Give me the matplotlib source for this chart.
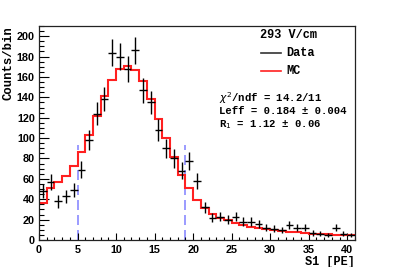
import numpy as np
import matplotlib
matplotlib.use("Agg")
import matplotlib.pyplot as plt
from matplotlib.ticker import MultipleLocator
from matplotlib.lines import Line2D

# --- data (1 PE bins, 0..41) ---
bin_edges = np.arange(0, 42, 1)
data_counts = [48, 57, 38, 43, 49, 69, 98, 124, 138, 184,
               180, 168, 186, 147, 135, 108, 90, 80, 68, 78,
               58, 32, 22, 23, 20, 23, 18, 18, 16, 12,
               11, 10, 15, 12, 12, 7, 6, 5, 12, 6, 5]
mc_counts = [36, 51, 57, 63, 73, 86, 103, 122, 141, 157,
             168, 171, 167, 156, 138, 119, 100, 81, 64, 51,
             39, 31, 26, 22, 19.6, 16.5, 15, 13, 12, 11,
             10, 9, 8, 7.5, 7, 6.2, 6, 5.5, 5.2, 5, 4.6]
cut_lo, cut_hi = 5, 19
cut_top = 93

field_label = "293 V/cm"
stat_lines = [r"$\chi^2$/ndf = 14.2/11",
              "Leff = 0.184 \u00b1 0.004",
              r"R$_{1}$ = 1.12 " + "\u00b1 0.06"]

mono = "Liberation Mono"
sans = "Liberation Sans"

fig = plt.figure(figsize=(3.95, 2.67), dpi=100)
ax = fig.add_axes([0.0987, 0.1011, 0.8, 0.8015])

centers = 0.5 * (bin_edges[:-1] + bin_edges[1:])
data_counts = np.array(data_counts, dtype=float)
ax.errorbar(centers, data_counts, xerr=0.5, yerr=np.sqrt(data_counts),
            fmt="none", ecolor="black", elinewidth=1.0, capsize=0, zorder=3)
ax.stairs(mc_counts, bin_edges, baseline=None, color="#ff2020", lw=1.5, zorder=2)

for xc in (cut_lo, cut_hi):
    ax.plot([xc, xc], [0, cut_top], color="#8a8aff", lw=1.2, dashes=(6, 3), zorder=1)

ax.set_xlim(0, 41)
ax.set_ylim(0, 210)
ax.xaxis.set_major_locator(MultipleLocator(5))
ax.xaxis.set_minor_locator(MultipleLocator(1))
ax.yaxis.set_major_locator(MultipleLocator(20))
ax.yaxis.set_minor_locator(MultipleLocator(5))
ax.tick_params(which="both", direction="in", top=False, right=False)
ax.tick_params(axis="y", which="major", length=7, width=0.8, pad=3)
ax.tick_params(axis="y", which="minor", length=3.5, width=0.8)
ax.tick_params(axis="x", which="major", length=5, width=0.8, pad=3.5)
ax.tick_params(axis="x", which="minor", length=2.5, width=0.8)
for lab in ax.get_xticklabels() + ax.get_yticklabels():
    lab.set_fontfamily(sans)
    lab.set_fontweight("bold")
    lab.set_fontsize(7.8)
for sp in ax.spines.values():
    sp.set_linewidth(0.9)
    sp.set_color("#222222")

# legend and labels drawn by hand in figure pixels
def fx(px):
    return px / 395

def fy(py):
    return 1 - py / 267

fig.text(fx(8.3), fy(26), "Counts/bin", rotation=90, ha="center", va="top",
         family=mono, weight="bold", fontsize=8.8)
fig.text(fx(355), fy(261.5), "S1 [PE]", ha="right", va="center",
         family=mono, weight="bold", fontsize=8.6)

fig.text(fx(288), fy(35), field_label, ha="center", va="center",
         family=mono, weight="bold", fontsize=8.6)
fig.add_artist(Line2D([fx(261), fx(281)], [fy(53), fy(53)], color="#333333", lw=1.2))
fig.text(fx(286), fy(53), "Data", ha="left", va="center",
         family=mono, weight="bold", fontsize=8.6)
fig.add_artist(Line2D([fx(261), fx(281)], [fy(71), fy(71)], color="#ff2020", lw=1.2))
fig.text(fx(286), fy(71), "MC", ha="left", va="center",
         family=mono, weight="bold", fontsize=8.6)
for i, s in enumerate(stat_lines):
    fig.text(fx(219), fy(98 + 13.5 * i), s, ha="left", va="center",
             family=mono, weight="bold", fontsize=7.7)

fig.savefig("out.png", dpi=100)
